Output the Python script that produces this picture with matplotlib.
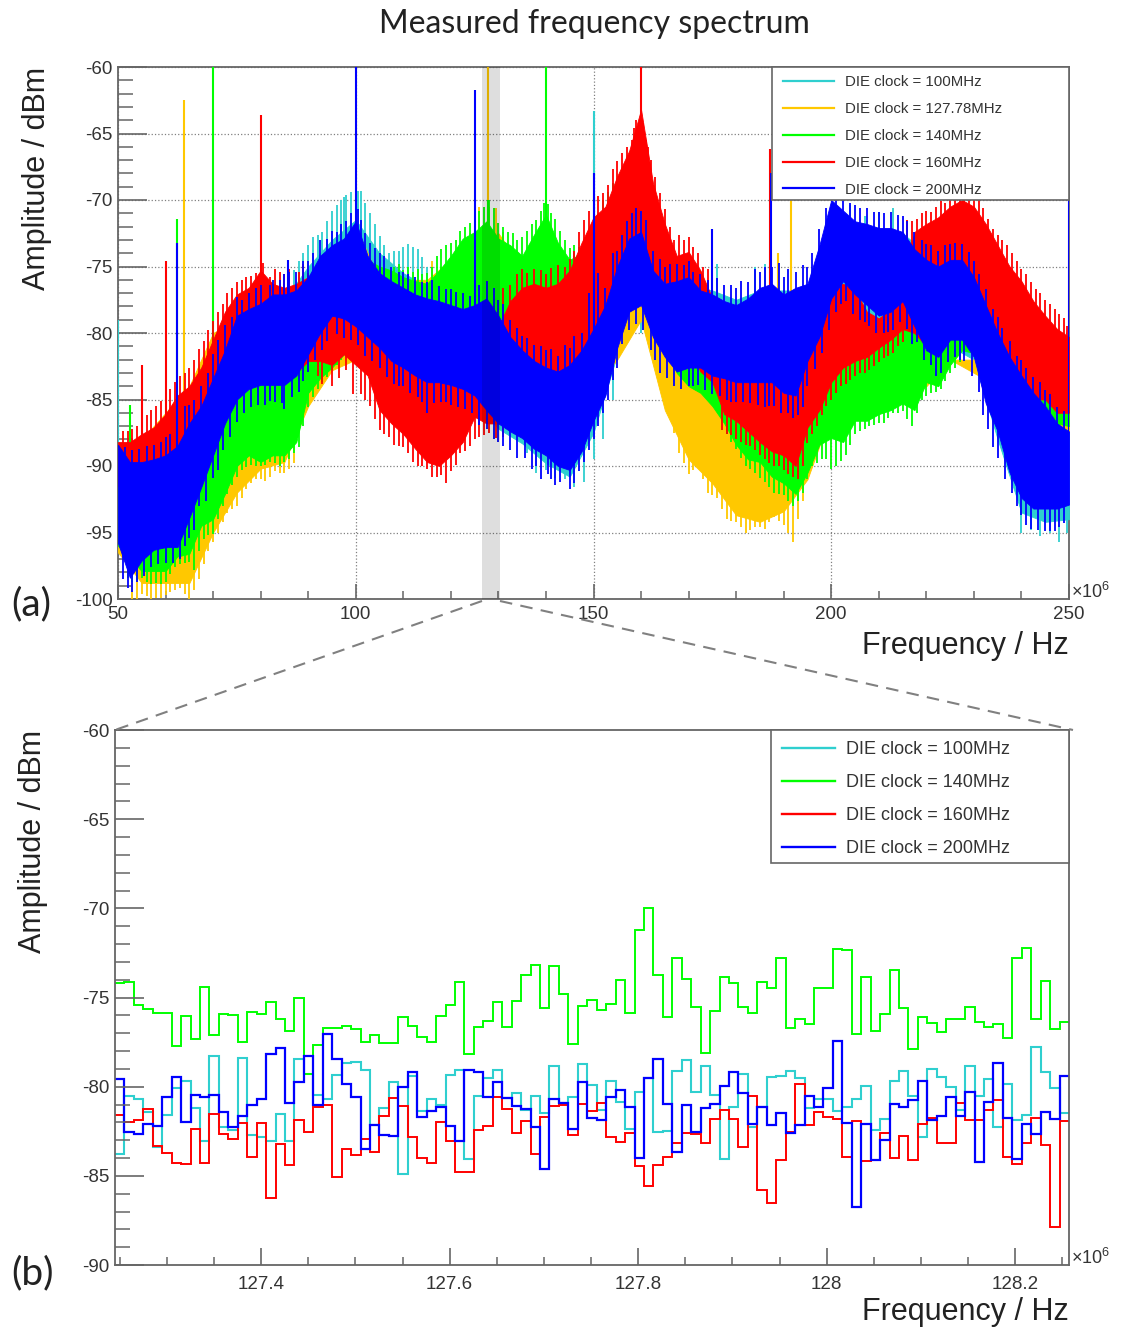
import numpy as np
import matplotlib
matplotlib.use('Agg')
import matplotlib.pyplot as plt
from matplotlib.lines import Line2D
from matplotlib.patches import Rectangle
from matplotlib.ticker import MultipleLocator

W, H = 1121, 1327
plt.rcParams['font.family'] = ['Liberation Sans', 'DejaVu Sans']
plt.rcParams['axes.unicode_minus'] = False
plt.rcParams['mathtext.default'] = 'regular'

CYAN, ORANGE, GREEN, RED, BLUE = '#2fcfcf', '#ffc800', '#00ff00', '#ff0000', '#0000ff'
GREY = '#666666'

# panel (a): band edges, dBm
grid_fine = np.arange(50, 250.1, 2.5)
grid_coarse = np.arange(50, 250.1, 5)

blue_up = [-88.4,-89.7,-89.7,-89.5,-89.2,-88.5,-86.8,-85.5,-83.4,-81.3,-78.7,-78.2,-77.8,-77.1,-77.1,-76.8,-75.8,-74.2,-73.4,-72.9,-71.6,
           -74.2,-75.5,-76.1,-76.6,-77.1,-77.4,-77.6,-77.9,-78.2,-77.9,-77.4,-78.7,-80.3,-81.3,-82.1,-82.6,-82.9,-82.4,-81.3,-79.7,
           -77.9,-75,-72.9,-72.4,-75.3,-76.3,-76.1,-75.8,-76.8,-77.1,-77.6,-77.9,-77.4,-76.6,-76.3,-77.1,-76.6,-76.3,-73.4,-70,
           -70.8,-71.6,-71.8,-72.1,-72.1,-72.4,-73.7,-74.5,-75,-74.5,-74.5,-75.8,-77.9,-80,-81.8,-83.2,-84.5,-85.5,-86.8,-87.4]
blue_low = [-95.8,-98.4,-97.1,-96.3,-96.1,-96.1,-93.9,-91.6,-89.2,-86.8,-85,-84.2,-83.9,-83.9,-83.9,-83.2,-81.6,-80,-78.7,-78.9,-79.5,
            -80.3,-81.1,-82.1,-82.6,-83.2,-83.7,-83.7,-83.9,-84.2,-84.7,-85.8,-86.8,-87.4,-87.9,-88.7,-89.2,-90,-90.3,-88.9,-86.6,
            -84.7,-81.1,-78.4,-77.9,-80.3,-81.8,-82.9,-82.6,-82.6,-83.2,-83.4,-83.7,-83.7,-83.7,-83.7,-84.5,-84.7,-82.1,-80.3,-77.4,
            -76.1,-77.1,-77.9,-78.7,-78.4,-77.6,-79.5,-81.3,-81.8,-80.5,-80.5,-81.8,-85.3,-87.4,-90.5,-92.4,-93.2,-93.2,-93.2,-92.9]
red_up = [-88.2,-88.2,-87.6,-87.1,-86.1,-84.7,-84,-82.6,-80.5,-78.4,-77.1,-76.6,-75.3,-76.3,-76.6,-76.3,-75.8,-75.5,-75.5,-75.5,-75.5,
          -76,-76,-76.5,-77,-77.5,-78,-78,-78,-78.5,-78.5,-78,-79.5,-77.6,-76.6,-76.3,-76.6,-76.3,-75.3,-73.2,-71.3,
          -70.5,-68.2,-66.3,-63.2,-68.7,-71.8,-74.2,-73.9,-75.3,-77.4,-78,-78,-78,-78,-78,-78,-78,-78,-78,-76.6,
          -76.3,-76.8,-78.4,-78.9,-78.2,-76,-72.4,-71.8,-71.3,-70.5,-70,-70.5,-71.8,-73.4,-75,-76.1,-77.6,-78.7,-79.7,-80.3]
red_low = [-91.5,-92,-92,-91,-90.5,-89,-88,-86,-84.5,-83,-83,-83,-83,-83,-83,-83,-82.1,-82.1,-82.4,-81.6,-82.4,
           -83.2,-85.8,-86.8,-87.6,-88.7,-89.7,-90,-89.2,-88.2,-86.3,-86.8,-86.8,-86,-85,-84,-84,-84,-84,-83,-82,
           -81,-79,-76,-75,-76,-78,-80,-81,-82.9,-83.7,-86.1,-86.6,-87.4,-88.2,-88.9,-89.2,-90,-87.1,-85.8,-83.7,
           -82.6,-82.1,-81.8,-81.1,-80.5,-79.7,-80,-81,-81,-80,-80,-81,-82,-83,-84,-84,-85,-85,-86,-86]
green_up = [-88.5,-88.5,-88,-88,-87.5,-87,-86,-85,-83,-81,-80,-79,-78.5,-78,-78,-78,-77.5,-76,-75,-74,-73,
            -74.5,-75,-75.3,-75.8,-76.1,-76.3,-75.3,-74.2,-72.9,-72.4,-71.6,-72.9,-73.4,-74.2,-72.6,-71.1,-73.2,-74.5,-74,-72,
            -70.8,-69.5,-70,-70,-72.5,-75,-77,-78,-78,-78,-78.5,-79,-79,-79,-79,-80,-80,-80,-80,-80,
            -80,-80,-80,-80,-79.5,-79,-79,-79,-79,-78.5,-78,-78,-78,-78.5,-79,-80,-80.5,-81.5,-82,-83]
green_low = [-96,-97,-97.9,-97.9,-97.9,-96.8,-96.6,-94.5,-94,-92.1,-90,-89.2,-89.7,-89.2,-89.2,-88.2,-84.5,-83.4,-82.6,-81.6,-81,
             -81,-81,-81,-81.5,-81.5,-82,-82,-82,-82,-82,-82,-82,-82,-82,-82,-82,-82,-81,-80,-79,
             -78,-76,-75,-75,-78,-81,-83,-84,-84.5,-85.5,-86.8,-88.4,-89.5,-89.7,-90.8,-91.3,-92.1,-90.5,-88.4,-87.9,
             -88.2,-86.6,-86.6,-86.1,-85.8,-85.3,-85.8,-83.7,-84,-82.4,-81.3,-81.5,-82,-82,-83.9,-85.5,-85.8,-86.3,-86.8,-87]
orange_up = [-88.5,-88,-86,-84,-80,-79,-77,-77,-76,-74,-72,-76,-76,-76,-74.5,-73,-72.5,-75,-76,-78,-77,-76,-75,-78,-80,
             -82,-82,-82,-82,-82,-84,-82,-82,-82,-82,-82,-82,-80,-80,-81,-83]
orange_low = [-96.5,-98.8,-98.8,-98.8,-95,-92,-90.2,-89.7,-85.5,-82.8,-82,-84,-84,-84,-84,-84,-84,-84,-84,-84,-84,-82,-79,-85.8,-89.5,
              -91.3,-93.7,-94.2,-93.4,-91,-86,-86,-86,-85,-84,-82,-83,-84,-85,-87,-87.5]
cyan_up = [-88.5,-89,-88,-87,-84,-80,-79,-77.5,-75,-73,-71.5,-74,-75.5,-76.5,-78,-78,-79,-81,-82,-82,-79,-75,-73,-76,-76.5,
           -76.8,-77.5,-76.8,-76.8,-76.8,-71,-71.8,-72.2,-72.5,-74,-74,-75.5,-79,-83,-85.5,-87]
cyan_low = [-96,-98,-97,-94,-90,-86,-84.5,-84,-82,-79,-80,-81.5,-83,-84,-84.5,-85,-87.2,-88.3,-89.8,-90.8,-87.5,-81.6,-78.9,-82,-83,
            -83.5,-84,-84,-85,-83,-78,-78,-79,-78,-82,-81,-82,-88,-93.5,-94.2,-94]

# noise spikes sticking out of the bands (MHz, dBm)
blue_tips = [(53,-88.8),(56,-88.5),(59,-88.2),(61,-87.6),(64,-85.5),(66,-85),(69,-83),(71,-80.5),(74,-78.8),(76,-77.5),(79,-76.6),(82,-76.4),(84,-76),(86,-75.4),(89,-74.6),(91,-74),(94,-72.9),(96,-72.4),(98,-71.6),(101,-71.5),
             (103,-73.2),(104,-73.6),(106,-74.2),(109,-75.4),(111,-75.6),(114,-76.2),(116,-76),(119,-76.7),(121,-76.9),(124,-77.2),(126,-76.4),(129,-76.6),(131,-77.8),(134,-79.6),(136,-80.4),(139,-81),(141,-81.2),(144,-80.9),(146,-80.2),(149,-77),
             (151,-75.5),(154,-74),(156,-72.6),(158,-71),(159,-70.6),(161,-71.5),(164,-74.4),(166,-74.8),(169,-74.9),(171,-75.4),(174,-76),(176,-75.9),(179,-76.4),(181,-76.1),(184,-75.2),(186,-75),(189,-74.7),(191,-75.2),(194,-74.9),(196,-74),
             (199,-70.6),(201,-69.4),(204,-70.2),(206,-70.6),(209,-70.9),(211,-71),(214,-71.1),(216,-71.6),(219,-73),(221,-73.4),(224,-73.4),(226,-73.2),(229,-73.9),(231,-75.6),(234,-78.2),(236,-79.6),(239,-81.7),(241,-82.6),(244,-83.7),(246,-84.6),(249,-85.9),
             (52,-99.2),(54,-98.7),(57,-97.6),(60,-97.3),(63,-97),(65,-95.4),(67,-93),(70,-90.9),(72,-88.8),(75,-86.7),(78,-85.6),(81,-85.4),(83,-85.2),(85,-85.7),(88,-84.4),(90,-82.9),(93,-81.3),(96,-80.1),(99,-80.5),(102,-81.7),
             (105,-82.6),(108,-83.8),(110,-84),(113,-84.8),(115,-86),(118,-85.2),(120,-85.4),(123,-85.7),(126,-86.9),(129,-88),(131,-88.5),(134,-89.4),(137,-90.2),(139,-91),(141,-91),(143,-91.2),(146,-91.3),(148,-89.7),(150,-88),(152,-86),
             (154,-83.5),(156,-80.8),(159,-79.3),(162,-81.3),(164,-83),(167,-84),(170,-84),(172,-83.9),(175,-84.6),(178,-85),(180,-85.2),(183,-85.3),(186,-85.6),(188,-85.5),(191,-86),(193,-86.2),(195,-84),(198,-81.5),(201,-78.4),(203,-77.6),
             (206,-79),(208,-79.5),(211,-80),(213,-79.8),(216,-79.7),(218,-80.7),(221,-82.4),(223,-83),(226,-81.8),(228,-82.1),(231,-84.4),(233,-87.2),(235,-89.4),(238,-92),(240,-93.7),(242,-94.7),(245,-94.9),(247,-94.9),(249,-94.3),
             (51.5,-88.6),(54.5,-88.7),(57.5,-88.4),(60,-87.8),(62.5,-86.8),(65,-85.4),(67.5,-84),(70,-81.6),(72.5,-79.4),(75,-77.3),(77.5,-77),(80,-76.4),(82.5,-76),(85,-75.6),(87.5,-75.4),(90,-74.6),(92.5,-73),(95,-72.3),(97,-71.8),(99,-71),
             (100.5,-70.7),(102,-72.5),(105,-74),(107.5,-75),(110,-75.4),(112.5,-75.8),(115,-76.2),(117.5,-76.5),(120,-76.7),(122.5,-77),(125,-76.8),(127.5,-76.1),(130,-77.5),(132.5,-79),(135,-80.2),(137.5,-80.9),(140,-81.3),(142.5,-81.7),(145,-81.1),(147.5,-80),
             (150,-78),(152.5,-76.6),(155,-73.8),(157,-71.6),(160,-70.8),(162.5,-73.8),(165,-75),(167.5,-74.8),(170,-74.6),(172.5,-75.6),(175,-75.8),(177.5,-76.4),(180,-76.6),(182.5,-76.2),(185,-75.4),(187.5,-75),(190,-75.8),(192.5,-75.4),(195,-75),(197.5,-72.2),
             (202.5,-69.6),(205,-70.4),(207.5,-70.6),(210,-70.9),(212.5,-70.9),(215,-71.2),(217.5,-72.4),(220,-73.3),(222.5,-73.8),(225,-73.3),(227.5,-73.3),(230,-74.6),(232.5,-76.7),(235,-78.8),(237.5,-80.6),(240,-82),(242.5,-83.3),(245,-84.3),(247.5,-85.6),
             (51,-98.5),(53,-99.5),(55.5,-98.3),(58.5,-97.4),(61.5,-97.3),(64,-96),(66,-94.8),(68.5,-92.6),(71,-90.3),(73.5,-87.8),(76.5,-86),(79.5,-85.4),(82,-85.1),(84.5,-85.3),(86.5,-84.8),(89,-83.6),(91.5,-82),(94,-80.6),(97.5,-80.4),(100.5,-80.9),
             (103.5,-82.1),(106.5,-83.3),(109,-84),(111.5,-84.5),(114,-85.2),(116.5,-85.3),(119,-85.2),(121.5,-85.6),(124.5,-86),(127.5,-87.2),(130,-88.2),(132.5,-88.8),(135.5,-89.4),(138,-90),(140.5,-90.6),(142,-91.4),(145,-91.7),(147,-90.4),(149,-88.8),(151,-87),
             (153,-85),(155,-82.6),(157.5,-79.8),(160.5,-79.8),(163,-82),(165.5,-83.4),(168.5,-84.2),(171,-84),(173.5,-84.3),(176.5,-84.7),(179,-85.2),(181.5,-85.2),(184.5,-85.4),(187,-85.5),(189.5,-86),(192,-86.4),(194,-85.6),(196.5,-82.7),(199.5,-79.8),(202,-77.8),
             (204.5,-78.6),(207,-79.2),(209.5,-80),(212,-79.9),(214.5,-79.2),(217,-80.8),(219.5,-82),(222,-83.2),(224.5,-82.2),(227,-82),(229.5,-83.2),(232,-86.2),(234,-88.6),(236.5,-91),(239,-93),(241,-94.4),(243.5,-94.8),(246,-94.9),(248,-94.6)]
red_tips = [(51,-87.4),(53,-87.2),(55,-86.5),(57,-85.8),(59,-85.1),(61,-84.2),(63,-83.2),(65,-82.6),(67,-81.2),(69,-79.8),(71,-78.4),(73,-77),(75,-76.2),(77,-75.8),(79,-75.5),(80.5,-74.7),(83,-75.2),(85,-75.6),(88,-75.4),(90,-75.5),
            (131,-76.6),(134,-75.6),(136,-75.5),(139,-75.3),(141,-75.1),(144,-75),(146,-73.8),(148,-71.5),(150,-70),(152,-69.5),(154,-67.7),(156,-66.5),(158,-65.5),(159,-64),(161,-65.5),(162,-67),(163,-68.3),(165,-70.7),(167,-73),(169,-73),(171,-73.5),(173,-75),
            (216,-71.5),(218,-71.4),(220,-70.8),(222,-70.5),(224,-70.2),(226,-69.4),(228,-69.2),(230,-69.6),(232,-70.6),(234,-72.2),(236,-73),(238,-74),(240,-75.2),(242,-76.2),(244,-77),(246,-77.8),(248,-78.6),(249.5,-79.5),
            (92,-83.2),(95,-84),(98,-82.8),(101,-84.6),(103,-85.5),(105,-87.3),(107,-87.8),(109,-88.5),(111,-89),(113,-90),(115,-90.2),(116,-90.8),(118,-90.7),(119,-91.3),(120,-90.4),(122,-89),(124,-88.5),(126,-87.8),(128,-87.5),(131,-87.8),
            (177,-87.3),(179,-87.7),(181,-88.2),(183,-88.5),(185,-89.2),(187,-89.8),(189,-90),(191,-90.6),(193,-91),(195,-88.3),(197,-87),(199,-85.5),(201,-84.5),(203,-83.8),(205,-83.2),(207,-83),(209,-82.5),(211,-81.9),(213,-81.5),(215,-80.7),
            (52,-87.4),(54,-87),(56,-86.2),(58,-85.5),(60,-84.8),(62,-83.7),(64,-83),(66,-82),(68,-80.6),(70,-79.1),(72,-77.8),(74,-76.6),(76,-76),(78,-75.7),(82,-75.8),(84,-75.4),(86,-75.2),(89,-74.8),
            (132.5,-76.4),(135,-75.2),(137.5,-75.2),(140,-75.6),(142.5,-74.9),(145,-74.4),(147,-72.4),(149,-70.8),(151,-69.7),(153,-68.9),(155,-67.1),(157,-66),(158.5,-64.6),(160.5,-64.2),(161.5,-66),(164,-69.5),(166,-72),(168,-72.6),(170,-72.8),(172,-74),(174,-75.2),
            (217,-71.6),(219,-71),(221,-70.9),(223,-70.1),(225,-69.8),(227,-69.2),(229,-69.3),(231,-70),(233,-71.4),(235,-72.6),(237,-73.4),(239,-74.6),(241,-75.6),(243,-76.7),(245,-77.5),(247,-78.2),(249,-78.9),
            (93,-83.8),(96.5,-83.4),(99.5,-84.6),(102,-85),(104,-86.5),(106,-87.6),(108,-88.4),(110,-88.6),(112,-89.7),(114,-90),(117,-90.8),(121,-89.9),(123,-88.9),(125,-88),(127,-87.7),(129.5,-87.9),
            (178,-87.6),(180,-88),(182,-88.4),(184,-88.8),(186,-89.5),(188,-90),(190,-90.3),(192,-90.8),(194,-90),(196,-87.6),(198,-86.2),(200,-85),(202,-84),(204,-83.5),(206,-83),(208,-82.8),(210,-82.2),(212,-81.7),(214,-81)]
green_tips = [(109,-74.8),(111,-75),(113,-75.2),(115,-75.5),(117,-74.2),(119,-73.4),(121,-73),(123,-72),(125,-71.4),(127,-70.5),(128,-70),(130,-71.7),(132,-72.4),(134,-73),(136,-72.3),(138,-71.5),(139.5,-70.2),(141,-71),(143,-72.3),(145,-73.6),(147,-73.5),(152,-70),(154,-68.7),(156,-68.8),
              (53,-98.7),(55,-98.4),(57,-98.9),(60,-98.7),(62,-97.6),(64,-97.3),(66,-97.8),(68,-95.5),(70,-95.1),(72,-93),(74,-91.4),(76,-90.3),(78,-89.9),(80,-90),(82,-89.7),(84,-90),(86,-89.5),(88,-88.6),(90,-85.6),(92,-84.2),(94,-83.3),(96,-82.4),
              (178,-87.6),(180,-88.7),(182,-90),(184,-90.5),(186,-91.2),(188,-92),(190,-92.2),(192,-93),(194,-92),(196,-90),(198,-89.5),(201,-90),(203,-89.2),(205,-87.6),(207,-87.2),(209,-86.9),(211,-86.8),(213,-86),(215,-85.9),(217,-87),(219,-85),(221,-84.5),(223,-84.2),(225,-83),(227,-82.2),(236,-83),(238,-84.6),(240,-86),(242,-86.5),(244,-87),(246,-87.4),(248,-87.5),
              (108,-75),(110,-75.3),(112,-75.4),(114,-75.6),(116,-75),(118,-73.7),(120,-73.2),(122,-72.3),(124,-71.7),(126,-70.8),(129,-70.6),(131,-72),(133,-72.5),(135,-72.8),(137,-71.8),(139,-70.8),(140.5,-70.3),(142,-71.4),(144,-73),(146,-73.4),(148,-73),(153,-69.4),(155,-68.9),
              (52,-98.4),(54,-98.6),(56,-98.7),(58,-98.8),(59,-98.9),(61,-98.1),(63,-97.4),(65,-97.2),(67,-96.4),(69,-95.2),(71,-94),(73,-92.1),(75,-90.8),(77,-90.1),(79,-90),(81,-89.9),(83,-89.8),(85,-89.7),(87,-89),(89,-87),(91,-84.8),(93,-83.7),(95,-82.8),(97,-82),
              (179,-88.2),(181,-89.4),(183,-90.2),(185,-90.9),(187,-91.6),(189,-92.1),(191,-92.6),(193,-92.6),(195,-91),(197,-89.8),(199,-89.5),(200,-90.2),(202,-89.6),(204,-88.4),(206,-87.4),(208,-87),(210,-86.8),(212,-86.4),(214,-86),(216,-86.5),(218,-86),(220,-84.7),(222,-84.4),(224,-83.6),(226,-82.6),(237,-83.8),(239,-85.3),(241,-86.2),(243,-86.7),(245,-87.2),(247,-87.5)]
orange_tips = [(53,-100),(55,-99.6),(57,-100),(59,-99.9),(61,-99.5),(63,-99.2),(65,-100),(67,-98.5),(69,-96.4),(71,-95),(73,-93.5),(75,-93),(77,-91.7),(79,-91),(81,-91.1),(83,-90.4),(85,-90.5),(87,-89.8),
               (166,-86),(168,-89),(170,-90.6),(172,-90),(174,-92),(176,-92.4),(178,-94),(180,-94.2),(182,-95),(184,-94.6),(186,-94.7),(188,-93.8),(190,-94.4),(192,-95.7),(194,-92.6),
               (116,-74.6),(118,-75),(124,-72.5),(126,-70.5),(128,-70.5),(129.5,-70.6),(131,-72.4),
               (54,-100),(56,-99.8),(58,-99.9),(60,-99.7),(62,-99.3),(64,-99.6),(66,-99.3),(68,-97.4),(70,-95.7),(72,-94.2),(74,-93.2),(76,-92.4),(78,-91.3),(80,-91),(82,-90.8),(84,-90.5),(86,-90.2),
               (165,-84),(167,-87.5),(169,-89.8),(171,-90.3),(173,-91),(175,-92.2),(177,-93.2),(179,-94.1),(181,-94.6),(183,-94.8),(185,-94.6),(187,-94.2),(189,-94.1),(191,-95),(193,-94)]
cyan_tips = [(87,-75.3),(89,-74),(91,-72.8),(93,-72.4),(95,-70.8),(97,-70),(98,-69.6),(99,-69.4),(101,-69.3),(103,-71),(105,-72.7),(107,-74),(109,-73.8),(111,-73.3),(113,-73.7),(115,-75),(176,-74.8),(184,-75),(186,-74.8),(204,-70.4),(207,-71.2),(210,-70.9),(213,-70.6),(216,-71.5),
             (136,-89),(138,-90.5),(140,-90.3),(142,-90.9),(144,-91),(146,-91.6),(148,-91.2),(150,-89.5),(152,-88),(154,-85),(158,-79.5),(160,-80),(162,-80.3),(164,-83),(240,-95),(242,-94.8),(244,-95.3),(246,-95),(248,-95.7),(249.5,-95),
             (88,-74.6),(90,-73.4),(92,-72.6),(94,-71.6),(96,-70.4),(97.5,-69.8),(100.5,-69.3),(102,-70.2),(104,-71.8),(106,-73.4),(108,-73.8),(110,-73.5),(112,-73.5),(114,-74.3),(116,-75.2)]

# narrow spurs
cyan_spurs = [(50, -79), (150, -63.3)]
orange_spurs = [(63.9, -62.5), (127.8, -60), (188.8, -74), (191.6, -68)]
green_spurs = [(52.5, -85.4), (62.5, -71.4), (70, -60), (127.8, -70), (140, -60)]
red_spurs = [(55, -82.4), (60, -74.6), (80.1, -63.6), (160, -60), (187.2, -66.2)]
blue_spurs = [(62.5, -73.2), (85.7, -74.5), (100, -60), (125.1, -61.7), (150, -68), (174.9, -72.2), (187.4, -68), (250, -60)]

# panel (b): histogram contents, one value per bin
bin_lo, bin_hi, bin_n = 127.245, 128.257, 101
b_cyan = [-83.76,-80.50,-80.70,-81.44,-83.37,-81.59,-80.09,-79.67,-81.20,-83.06,-78.30,-82.26,-82.41,-78.39,-82.69,-82.83,-83.06,-81.52,-83.06,-78.46,
          -79.30,-80.46,-80.67,-79.33,-78.70,-78.59,-79.04,-82.13,-81.20,-79.76,-84.91,-79.41,-81.35,-80.67,-81.02,-79.35,-79.04,-84.04,-80.52,-79.54,
          -79.07,-80.65,-80.33,-81.33,-80.52,-81.48,-78.83,-80.93,-80.56,-78.74,-79.91,-81.31,-79.66,-80.84,-82.37,-80.28,-79.53,-82.56,-82.49,-79.12,
          -78.50,-80.28,-78.82,-80.47,-84.06,-81.12,-79.29,-82.24,-81.16,-79.44,-79.38,-79.10,-79.53,-81.21,-80.69,-80.69,-81.35,-81.16,-80.69,-79.94,
          -82.43,-81.83,-79.66,-79.10,-80.52,-82.80,-79.03,-79.44,-80.00,-81.31,-78.82,-80.52,-79.57,-82.28,-79.87,-81.87,-81.59,-77.76,-79.20,-80.09,-81.46]
b_green = [-74.21,-74.15,-75.42,-75.65,-75.85,-75.85,-77.70,-76.04,-77.33,-74.40,-77.10,-75.93,-75.98,-77.52,-75.83,-75.95,-75.27,-76.20,-76.88,-75.05,
           -79.30,-77.67,-76.73,-76.73,-76.58,-76.79,-77.52,-77.10,-77.57,-77.57,-76.11,-76.62,-77.20,-77.52,-76.04,-75.42,-74.11,-78.17,-76.64,-76.30,
           -75.24,-76.64,-75.18,-73.74,-73.18,-75.57,-73.22,-74.83,-77.63,-75.46,-75.14,-75.70,-75.39,-74.02,-75.85,-71.21,-70.00,-73.74,-76.07,-72.77,
           -73.98,-75.51,-78.13,-75.76,-73.87,-74.17,-75.55,-75.85,-74.15,-74.49,-72.80,-76.73,-76.21,-76.50,-74.49,-74.49,-72.28,-72.34,-77.07,-73.87,
           -76.86,-75.94,-73.46,-75.61,-77.91,-76.11,-76.45,-76.95,-76.22,-76.22,-75.51,-76.36,-76.64,-76.49,-77.29,-72.80,-72.24,-76.22,-74.06,-76.79,-76.36]
b_red = [-81.61,-81.98,-81.85,-81.24,-83.30,-83.70,-84.26,-84.31,-82.35,-84.26,-81.52,-82.63,-82.93,-82.04,-83.93,-82.04,-86.24,-83.19,-84.39,-81.89,
         -82.56,-81.15,-81.04,-85.04,-83.52,-83.81,-82.96,-83.65,-81.67,-80.65,-81.11,-82.81,-83.98,-84.26,-82.00,-83.06,-84.76,-84.76,-82.44,-82.19,
         -80.59,-81.26,-82.59,-81.94,-83.76,-81.70,-81.11,-81.02,-82.72,-80.98,-81.39,-80.90,-82.84,-83.12,-82.62,-84.43,-85.57,-84.39,-83.93,-83.18,
         -82.62,-82.67,-83.18,-81.83,-81.31,-81.83,-83.40,-80.50,-85.79,-86.54,-84.11,-82.52,-79.87,-82.17,-81.40,-81.72,-81.79,-83.93,-81.91,-84.15,
         -84.11,-82.58,-84.02,-82.77,-84.11,-82.11,-81.78,-83.18,-83.18,-80.93,-81.87,-81.87,-81.31,-80.75,-83.93,-84.34,-83.18,-81.78,-83.27,-87.85,-81.91]
b_blue = [-79.59,-82.56,-82.63,-82.09,-82.19,-80.56,-79.48,-81.98,-80.46,-80.56,-80.46,-81.44,-82.26,-81.67,-81.04,-80.70,-78.15,-77.81,-80.93,-79.76,
          -78.28,-81.02,-77.07,-78.46,-79.87,-80.56,-83.52,-82.13,-82.69,-82.78,-80.00,-79.20,-81.70,-81.39,-81.15,-82.22,-83.06,-79.04,-79.20,-80.56,
          -79.76,-80.65,-81.07,-81.26,-82.26,-84.63,-80.70,-80.93,-82.35,-79.72,-81.76,-81.87,-80.60,-80.19,-81.12,-84.02,-79.53,-78.45,-80.99,-83.68,
          -81.03,-82.52,-81.21,-80.99,-79.94,-79.20,-80.34,-82.11,-81.16,-82.15,-81.46,-82.58,-82.17,-80.50,-81.16,-80.06,-77.42,-82.06,-86.73,-82.11,
          -84.11,-82.99,-80.99,-81.16,-80.75,-79.68,-81.87,-81.64,-80.60,-81.64,-80.28,-84.21,-80.88,-78.69,-81.74,-84.06,-82.11,-82.67,-81.44,-81.83,-79.38]

top_labels = ['DIE clock = 100MHz', 'DIE clock = 127.78MHz', 'DIE clock = 140MHz', 'DIE clock = 160MHz', 'DIE clock = 200MHz']
bottom_labels = ['DIE clock = 100MHz', 'DIE clock = 140MHz', 'DIE clock = 160MHz', 'DIE clock = 200MHz']
zoom_band = (126.65, 130.4)


def px(x, y):
    return x / W, 1 - y / H


def make_axes(fig, left, right, top, bottom):
    x0, y0 = px(left, bottom)
    x1, y1 = px(right, top)
    ax = fig.add_axes([x0, y0, x1 - x0, y1 - y0])
    for s in ax.spines.values():
        s.set_color(GREY)
        s.set_linewidth(1.3)
    return ax


def draw_band(ax, grid, up, low, tips, spurs, color, z):
    up, low = np.array(up), np.array(low)
    mid = (up + low) / 2
    tip_f, tip_db = np.array(tips).T
    spur_f, spur_db = np.array(spurs).T
    ax.fill_between(grid, low, up, color=color, lw=0.6, zorder=z)
    ax.vlines(tip_f, np.interp(tip_f, grid, mid), tip_db, color=color, lw=1.3, zorder=z)
    ax.vlines(spur_f, np.interp(spur_f, grid, mid), spur_db, color=color, lw=1.5, zorder=z)


def make_legend(ax, labels, colors, box_px, axes_px, text_top, size, spacing, hlen, hpad, lw):
    left, right, top, bottom = box_px
    a_left, a_right, a_top, a_bottom = axes_px
    ax_w, ax_h = a_right - a_left, a_bottom - a_top
    box = Rectangle(((left - a_left) / ax_w, 1 - (bottom - a_top) / ax_h), (right - left) / ax_w, (bottom - top) / ax_h,
                    transform=ax.transAxes, facecolor='white', edgecolor=GREY, lw=1.2, zorder=19, clip_on=False)
    ax.add_patch(box)
    handles = [Line2D([0], [0], color=c, lw=lw) for c in colors]
    anchor = ((left + 11 - a_left) / ax_w, 1 - text_top / ax_h)
    leg = ax.legend(handles, labels, loc='upper left', bbox_to_anchor=anchor, borderaxespad=0, borderpad=0,
                    fontsize=size, labelspacing=spacing, handlelength=hlen, handletextpad=hpad,
                    frameon=False, labelcolor='#333333')
    leg.set_zorder(20)


fig = plt.figure(figsize=(W / 100, H / 100), dpi=100)

# panel (a)
ax1_px = (118, 1069, 67, 599)
ax1 = make_axes(fig, *ax1_px)
draw_band(ax1, grid_coarse, cyan_up, cyan_low, cyan_tips, cyan_spurs, CYAN, 3)
draw_band(ax1, grid_coarse, orange_up, orange_low, orange_tips, orange_spurs, ORANGE, 4)
draw_band(ax1, grid_fine, green_up, green_low, green_tips, green_spurs, GREEN, 5)
draw_band(ax1, grid_fine, red_up, red_low, red_tips, red_spurs, RED, 6)
draw_band(ax1, grid_fine, blue_up, blue_low, blue_tips, blue_spurs, BLUE, 7)
ax1.axvspan(zoom_band[0], zoom_band[1], color='black', alpha=0.13, lw=0, zorder=8)
ax1.set_xlim(50, 250)
ax1.set_ylim(-100, -60)
ax1.set_xticks([50, 100, 150, 200, 250])
ax1.set_yticks(np.arange(-100, -59, 5))
ax1.xaxis.set_minor_locator(MultipleLocator(10))
ax1.yaxis.set_minor_locator(MultipleLocator(1))
ax1.grid(True, which='major', color='#808080', ls=':', lw=0.9, zorder=1)
ax1.set_axisbelow(True)
ax1.tick_params(axis='y', which='major', direction='in', length=21, width=1.2, color=GREY, labelsize=13.5, labelcolor='#333333', pad=4)
ax1.tick_params(axis='y', which='minor', direction='in', length=10.5, width=1.1, color=GREY)
ax1.tick_params(axis='x', which='major', direction='in', length=11, width=1.2, color=GREY, labelsize=13.5, labelcolor='#333333', pad=5)
ax1.tick_params(axis='x', which='minor', direction='in', length=6, width=1.1, color=GREY)
make_legend(ax1, top_labels, [CYAN, ORANGE, GREEN, RED, BLUE], (772, 1069, 67, 200), ax1_px, 8.5, 10.8, 0.85, 3.4, 0.75, 1.6)

# panel (b)
ax2_px = (115, 1069, 730, 1265)
ax2 = make_axes(fig, *ax2_px)
edges = np.linspace(bin_lo, bin_hi, bin_n + 1)
ax2.stairs(b_cyan, edges, baseline=None, color=CYAN, lw=1.5)
ax2.stairs(b_green, edges, baseline=None, color=GREEN, lw=1.4)
ax2.stairs(b_red, edges, baseline=None, color=RED, lw=1.4)
ax2.stairs(b_blue, edges, baseline=None, color=BLUE, lw=1.6)
ax2.set_xlim(bin_lo, bin_hi)
ax2.set_ylim(-90, -60)
ax2.set_xticks([127.4, 127.6, 127.8, 128, 128.2])
ax2.set_xticklabels(['127.4', '127.6', '127.8', '128', '128.2'])
ax2.set_yticks(np.arange(-90, -59, 5))
ax2.xaxis.set_minor_locator(MultipleLocator(0.05))
ax2.yaxis.set_minor_locator(MultipleLocator(1))
ax2.tick_params(axis='y', which='major', direction='in', length=21, width=1.2, color=GREY, labelsize=13.5, labelcolor='#333333', pad=4)
ax2.tick_params(axis='y', which='minor', direction='in', length=10.5, width=1.1, color=GREY)
ax2.tick_params(axis='x', which='major', direction='in', length=12, width=1.2, color=GREY, labelsize=13.5, labelcolor='#333333', pad=8)
ax2.tick_params(axis='x', which='minor', direction='in', length=6, width=1.1, color=GREY)
make_legend(ax2, bottom_labels, [CYAN, GREEN, RED, BLUE], (771, 1069, 730, 863), ax2_px, 11, 12.95, 0.89, 2.95, 0.6, 1.7)

# dashed lines from the band to panel (b)
dash = (0, (6, 4))
for start, end in [((482, 601), (115, 730)), ((500, 601), (1073, 730))]:
    xa, ya = px(*start)
    xb, yb = px(*end)
    fig.add_artist(Line2D([xa, xb], [ya, yb], transform=fig.transFigure, color='#808080', lw=1.5, ls=dash))

# text around the panels
x, y = px(594, 24)
fig.text(x, y, 'Measured frequency spectrum', ha='center', va='center', fontsize=23, family='Lato', color='#222222')
x, y = px(37, 67)
fig.text(x, y, 'Amplitude / dBm', rotation=90, ha='center', va='top', fontsize=22, color='#222222')
x, y = px(33, 730)
fig.text(x, y, 'Amplitude / dBm', rotation=90, ha='center', va='top', fontsize=22, color='#222222')
x, y = px(1069, 646)
fig.text(x, y, 'Frequency / Hz', ha='right', va='center', fontsize=22, color='#222222')
x, y = px(1069, 1312)
fig.text(x, y, 'Frequency / Hz', ha='right', va='center', fontsize=22, color='#222222')
x, y = px(1071, 592)
fig.text(x, y, r'$\times$10$^{6}$', ha='left', va='center', fontsize=13, color='#333333')
x, y = px(1071, 1258)
fig.text(x, y, r'$\times$10$^{6}$', ha='left', va='center', fontsize=13, color='#333333')
x, y = px(11, 604)
fig.text(x, y, '(a)', ha='left', va='center', fontsize=28, family='Lato', color='#222222')
x, y = px(11, 1273)
fig.text(x, y, '(b)', ha='left', va='center', fontsize=28, family='Lato', color='#222222')

fig.savefig('out.png', dpi=100, facecolor='white')
